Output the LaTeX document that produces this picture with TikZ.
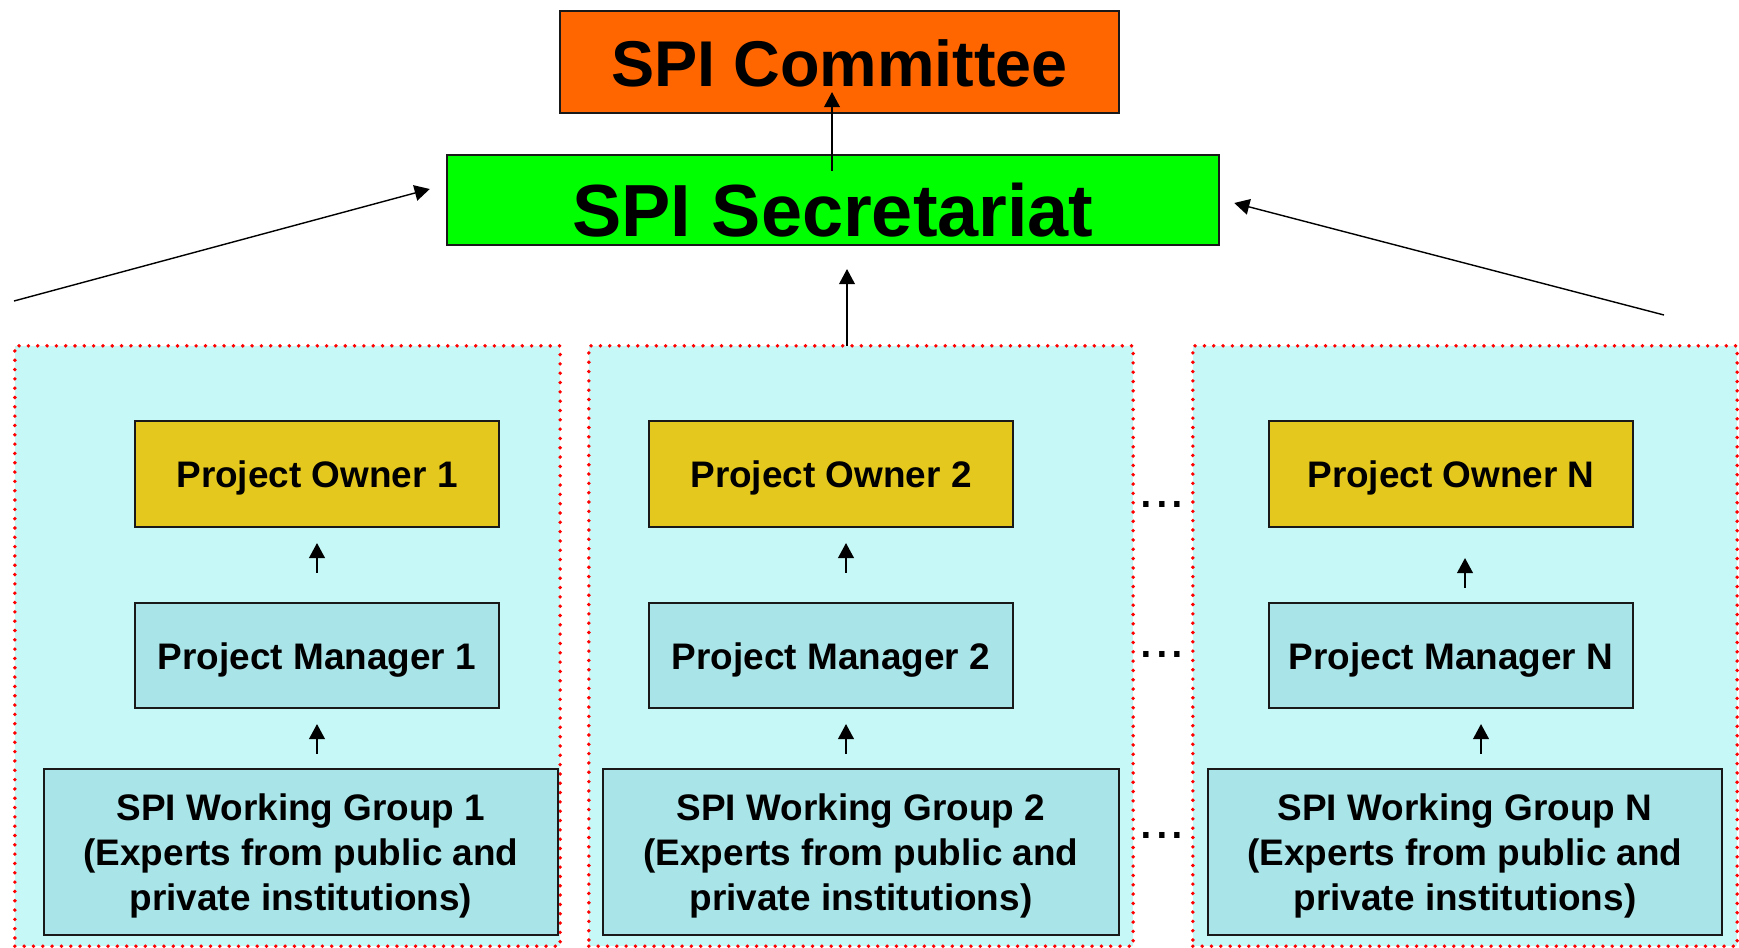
\documentclass[tikz,border=0pt]{standalone}
\usepackage{fontspec}
\setmainfont{Liberation Sans}
\usetikzlibrary{arrows.meta,calc,positioning}
\usepackage{xcolor}

\definecolor{comorange}{RGB}{255,102,0}
\definecolor{secgreen}{RGB}{0,255,0}
\definecolor{ownergold}{RGB}{228,200,30}
\definecolor{mgrteal}{RGB}{168,228,232}
\definecolor{panelcyan}{RGB}{198,248,248}

\tikzset{
    box/.style={rectangle, draw=black!90, line width=0.6pt, inner sep=0pt, outer sep=0pt,
        font=\bfseries\fontsize{10.5}{12.8}\selectfont, text height=7.8pt, text depth=0pt},
    ownerbox/.style={box, fill=ownergold, minimum width=3.64cm, minimum height=1.06cm},
    managerbox/.style={box, fill=mgrteal, minimum width=3.64cm, minimum height=1.05cm},
    groupbox/.style={box, fill=mgrteal, align=center, minimum height=1.66cm, text height=33.4pt, text depth=0pt},
    panel/.style={rectangle, draw=red, fill=panelcyan, line width=1.1pt, dash pattern=on 0pt off 2.65pt,
        line cap=round, inner sep=0pt, outer sep=0pt, minimum height=6cm},
    gapdots/.style={font=\fontsize{16}{16}\selectfont, inner sep=0pt, anchor=base},
}

\begin{document}
\begin{tikzpicture}[x=0.01cm, y=0.01cm, >={Triangle[length=4.3pt,width=4.5pt]}]

    \useasboundingbox (0,0) rectangle (1739,947);
    \clip (0,0) rectangle (1739,947);

    %top boxes
    \node[box, fill=comorange, minimum width=5.59cm, minimum height=1.02cm,
        font=\bfseries\fontsize{18.4}{20}\selectfont, text height=14.2pt] (com) at (839.5,885) {SPI Committee};
    \node[box, fill=secgreen, minimum width=7.72cm, minimum height=0.90cm,
        font=\bfseries\fontsize{21}{24}\selectfont, text height=21pt] (sec) at (833,747) {SPI Secretariat};

    %project columns
    \foreach \n/\gx/\gw/\ox/\wx/\ww in {1/287.5/5.45/317/301/5.14, 2/861/5.44/831/861/5.16, N/1465/5.44/1451/1465/5.14}
    {
        \node[panel, minimum width=\gw cm] (grp\n) at (\gx,301) {};
        \node[ownerbox] (po\n) at (\ox,473) {Project Owner \n};
        \node[managerbox] (pm\n) at (\ox,291.5) {Project Manager \n};
        \node[groupbox, minimum width=\ww cm] (wg\n) at (\wx,95)
            {SPI Working Group \n\\(Experts from public and\\private institutions)};
    }

    %dots between columns
    \node[gapdots] (dotsA) at (1162,440) {...};
    \node[gapdots] (dotsB) at (1162,290) {...};
    \node[gapdots] (dotsC) at (1162,109) {...};

    %arrows to secretariat and committee
    \coordinate (leftend) at (14,646);
    \coordinate (rightend) at (1664,632);
    \draw[->] (leftend) -- ($(sec.west)+(-17,11)$);
    \draw[->] (rightend) -- ($(sec.east)+(15,-3)$);
    \draw[->] ($(grp2.north -| sec.south)+(14,0)$) -- ($(sec.south)+(14,-24)$);
    \draw[->] ($(sec.north)+(-1,-16)$) -- ($(sec.north |- com.south)+(-1,21)$);

    %arrows inside columns
    \draw[->, line width=0.5pt] ($(pm1.north)+(0,30)$) -- ($(po1.south)+(0,-16)$);
    \draw[->, line width=0.5pt] ($(pm2.north)+(15,30)$) -- ($(po2.south)+(15,-16)$);
    \draw[->, line width=0.5pt] ($(pmN.north)+(14,15)$) -- ($(poN.south)+(14,-31)$);
    \draw[->, line width=0.5pt] ($(wg1.north -| pm1.south)+(0,15)$) -- ($(pm1.south)+(0,-16)$);
    \draw[->, line width=0.5pt] ($(wg2.north -| pm2.south)+(15,15)$) -- ($(pm2.south)+(15,-16)$);
    \draw[->, line width=0.5pt] ($(wgN.north -| pmN.south)+(30,15)$) -- ($(pmN.south)+(30,-16)$);

\end{tikzpicture}
\end{document}
